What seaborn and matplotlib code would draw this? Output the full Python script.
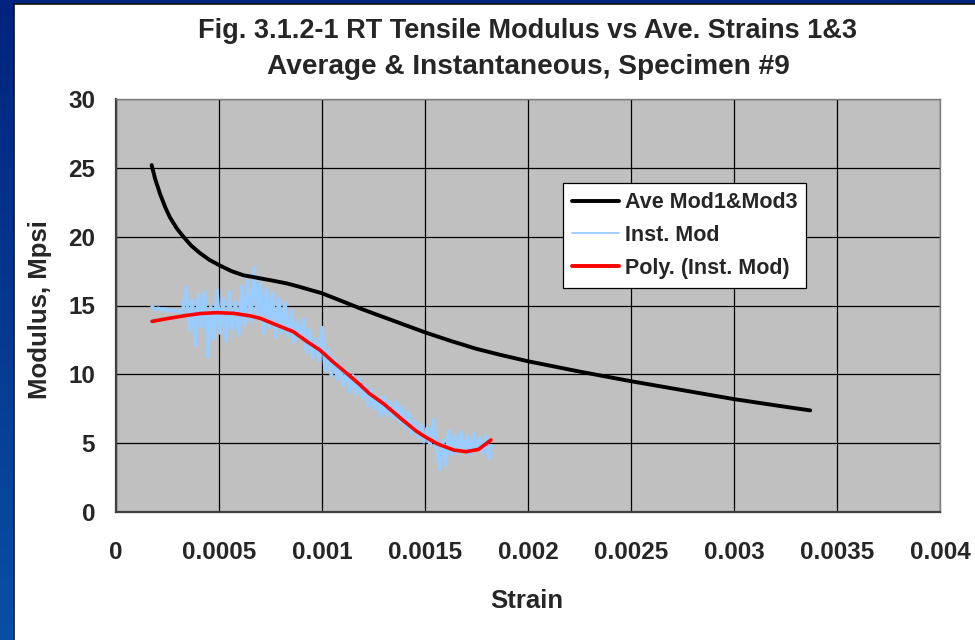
import numpy as np
import pandas as pd
import matplotlib
matplotlib.use("Agg")
import matplotlib.pyplot as plt
from matplotlib.patches import Rectangle
from matplotlib.lines import Line2D
from matplotlib.colors import LinearSegmentedColormap
import seaborn as sns

# ---------------- data ----------------
# Average modulus (Mod1 & Mod3) -- strain in microstrain, modulus in Mpsi
ave_strain_us = [173, 190, 214, 240, 262, 295, 327, 365, 408, 455, 505, 560, 618,
                 690, 763, 830, 893, 950, 998, 1100, 1200, 1300, 1400, 1500, 1620,
                 1750, 1870, 2000, 2250, 2500, 2750, 3000, 3200, 3370]
ave_mod = [25.2, 24.2, 23.1, 22.1, 21.4, 20.6, 20.0, 19.35, 18.8, 18.3, 17.9, 17.5, 17.2,
           17.0, 16.8, 16.6, 16.35, 16.1, 15.9, 15.3, 14.7, 14.15, 13.6, 13.05, 12.45,
           11.85, 11.4, 10.95, 10.2, 9.5, 8.85, 8.2, 7.75, 7.38]

# Instantaneous modulus (noisy)
inst_strain_us = [175, 190, 205, 220, 235, 250, 265, 280, 295, 310,
                  325, 340, 355, 370, 385, 400, 415, 430, 445, 460,
                  475, 490, 505, 520, 535, 550, 565, 580, 595, 610,
                  625, 640, 655, 670, 685, 700, 715, 730, 745, 760,
                  775, 790, 805, 820, 835, 850, 865, 880, 895, 910,
                  925, 940, 955, 970, 985, 1000, 1015, 1030, 1045, 1060,
                  1075, 1090, 1105, 1120, 1135, 1150, 1165, 1180, 1195, 1210,
                  1225, 1240, 1255, 1270, 1285, 1300, 1315, 1330, 1345, 1360,
                  1375, 1390, 1405, 1420, 1435, 1450, 1465, 1480, 1495, 1510,
                  1525, 1540, 1555, 1570, 1585, 1600, 1615, 1630, 1645, 1660,
                  1675, 1690, 1705, 1720, 1735, 1750, 1765, 1780, 1795, 1810,
                  1820]
inst_mod = [14.9, 14.7, 14.8, 14.7, 14.75, 14.6, 14.7, 14.6, 14.65, 14.5,
            14.7, 16.3, 13.2, 15.4, 12.1, 15.8, 13.5, 16.0, 11.3, 14.9,
            12.6, 16.1, 13.0, 15.5, 12.4, 16.0, 13.3, 15.2, 12.8, 16.4,
            13.6, 16.8, 13.9, 17.7, 14.2, 16.6, 13.0, 16.2, 13.4, 15.9,
            12.7, 15.5, 13.0, 15.2, 12.8, 14.6, 12.3, 13.9, 12.6, 14.0,
            11.6, 13.2, 11.2, 12.6, 11.0, 13.4, 10.3, 11.8, 9.9, 11.2,
            9.6, 10.6, 9.2, 10.3, 8.7, 9.9, 8.6, 9.7, 8.3, 9.2,
            7.7, 8.9, 7.5, 8.3, 7.0, 8.4, 7.0, 8.0, 6.8, 8.0,
            6.5, 7.6, 6.1, 7.2, 5.7, 6.6, 5.4, 6.3, 5.1, 6.1,
            4.9, 6.7, 4.6, 3.1, 5.2, 3.4, 5.9, 4.2, 5.6, 4.3,
            5.8, 4.4, 5.5, 4.2, 5.7, 4.5, 5.4, 4.3, 5.5, 3.9,
            4.8]

# Polynomial trend of instantaneous modulus
poly_strain_us = [175, 250, 330, 410, 490, 570, 650, 700, 760, 860, 930, 990,
                  1050, 1120, 1180, 1230, 1300, 1390, 1460, 1500, 1560, 1640,
                  1700, 1760, 1820]
poly_mod = [13.85, 14.05, 14.25, 14.42, 14.48, 14.43, 14.25, 14.07, 13.7, 13.1,
            12.35, 11.76, 10.95, 10.07, 9.3, 8.6, 7.85, 6.7, 5.85, 5.47, 4.95,
            4.5, 4.38, 4.55, 5.23]

x_ticks = [0, 0.0005, 0.001, 0.0015, 0.002, 0.0025, 0.003, 0.0035, 0.004]
x_tick_labels = ["0", "0.0005", "0.001", "0.0015", "0.002", "0.0025", "0.003", "0.0035", "0.004"]
y_ticks = [0, 5, 10, 15, 20, 25, 30]
series_names = ["Ave Mod1&Mod3", "Inst. Mod", "Poly. (Inst. Mod)"]
title_lines = ["Fig. 3.1.2-1 RT Tensile Modulus vs Ave. Strains 1&3",
               "Average & Instantaneous, Specimen #9"]

# ---------------- style ----------------
sns.set_style("white")
plt.rcParams["font.family"] = ["Liberation Sans", "DejaVu Sans"]
plt.rcParams["font.weight"] = "bold"

W, H = 975, 640
fig = plt.figure(figsize=(W / 100, H / 100), dpi=100)

# slide background (blue gradient) + white chart area
bg = fig.add_axes([0, 0, 1, 1], zorder=-10)
grad = np.linspace(0, 1, 256).reshape(-1, 1)
cmap = LinearSegmentedColormap.from_list("slide", ["#0A4EA6", "#00247D"])
bg.imshow(grad, aspect="auto", cmap=cmap, extent=[0, 1, 0, 1], origin="lower")
bg.add_patch(Rectangle((14 / W, -0.01), 1.02, 1 - 4 / H + 0.01, facecolor="white",
                       edgecolor="#111111", linewidth=1.2, transform=bg.transAxes))
bg.set_xlim(0, 1)
bg.set_ylim(0, 1)
bg.axis("off")

ax = fig.add_axes([116 / W, 1 - 512 / H, (940 - 116) / W, (512 - 99) / H])
ax.set_facecolor("#C0C0C0")

df_ave = pd.DataFrame({"strain": np.array(ave_strain_us) * 1e-6, "mod": ave_mod})
df_inst = pd.DataFrame({"strain": np.array(inst_strain_us) * 1e-6, "mod": inst_mod})
df_poly = pd.DataFrame({"strain": np.array(poly_strain_us) * 1e-6, "mod": poly_mod})

sns.lineplot(data=df_inst, x="strain", y="mod", ax=ax, color="#99CCFF", linewidth=2.6,
             estimator=None, sort=False, zorder=3)
sns.lineplot(data=df_poly, x="strain", y="mod", ax=ax, color="#FF0000", linewidth=2.6,
             estimator=None, sort=False, zorder=4)
sns.lineplot(data=df_ave, x="strain", y="mod", ax=ax, color="#000000", linewidth=2.8,
             estimator=None, sort=False, zorder=5)

ax.set_xlim(0, 0.004)
ax.set_ylim(0, 30)
ax.set_xticks(x_ticks)
ax.set_xticklabels(x_tick_labels)
ax.set_yticks(y_ticks)
ax.grid(True, color="black", linewidth=0.9)
ax.set_axisbelow(True)
ax.set_xlabel("")
ax.set_ylabel("")
for s in ["top", "right"]:
    ax.spines[s].set_color("#808080")
    ax.spines[s].set_linewidth(1.0)
for s in ["left", "bottom"]:
    ax.spines[s].set_color("#404040")
    ax.spines[s].set_linewidth(1.6)
ax.tick_params(axis="both", which="major", direction="out", length=7, width=1.2,
               color="#404040", labelsize=17.5, pad=8)
ax.tick_params(axis="x", pad=14)
for lab in ax.get_xticklabels() + ax.get_yticklabels():
    lab.set_fontweight("bold")

handles = [Line2D([], [], color="black", lw=2.8),
           Line2D([], [], color="#99CCFF", lw=1.3),
           Line2D([], [], color="red", lw=2.8)]
leg = ax.legend(handles, series_names, loc="upper left",
                bbox_to_anchor=((563 - 116) / 824, (512 - 183) / 413),
                borderaxespad=0, fancybox=False, framealpha=1, edgecolor="black",
                prop={"weight": "bold", "size": 15.5}, handlelength=2.2,
                handletextpad=0.25, labelspacing=0.55, borderpad=0.42)
leg.get_frame().set_linewidth(0.9)

fig.text(528 / W, 1 - 31 / H, title_lines[0], ha="center", va="center",
         fontsize=19.5, fontweight="bold")
fig.text(528 / W, 1 - 67 / H, title_lines[1], ha="center", va="center",
         fontsize=20.2, fontweight="bold")
fig.text(40 / W, 1 - 310 / H, "Modulus, Mpsi", ha="center", va="center",
         rotation=90, fontsize=18.5, fontweight="bold")
fig.text(527 / W, 1 - 601 / H, "Strain", ha="center", va="center",
         fontsize=18.5, fontweight="bold")

fig.savefig("out.png", dpi=100)
